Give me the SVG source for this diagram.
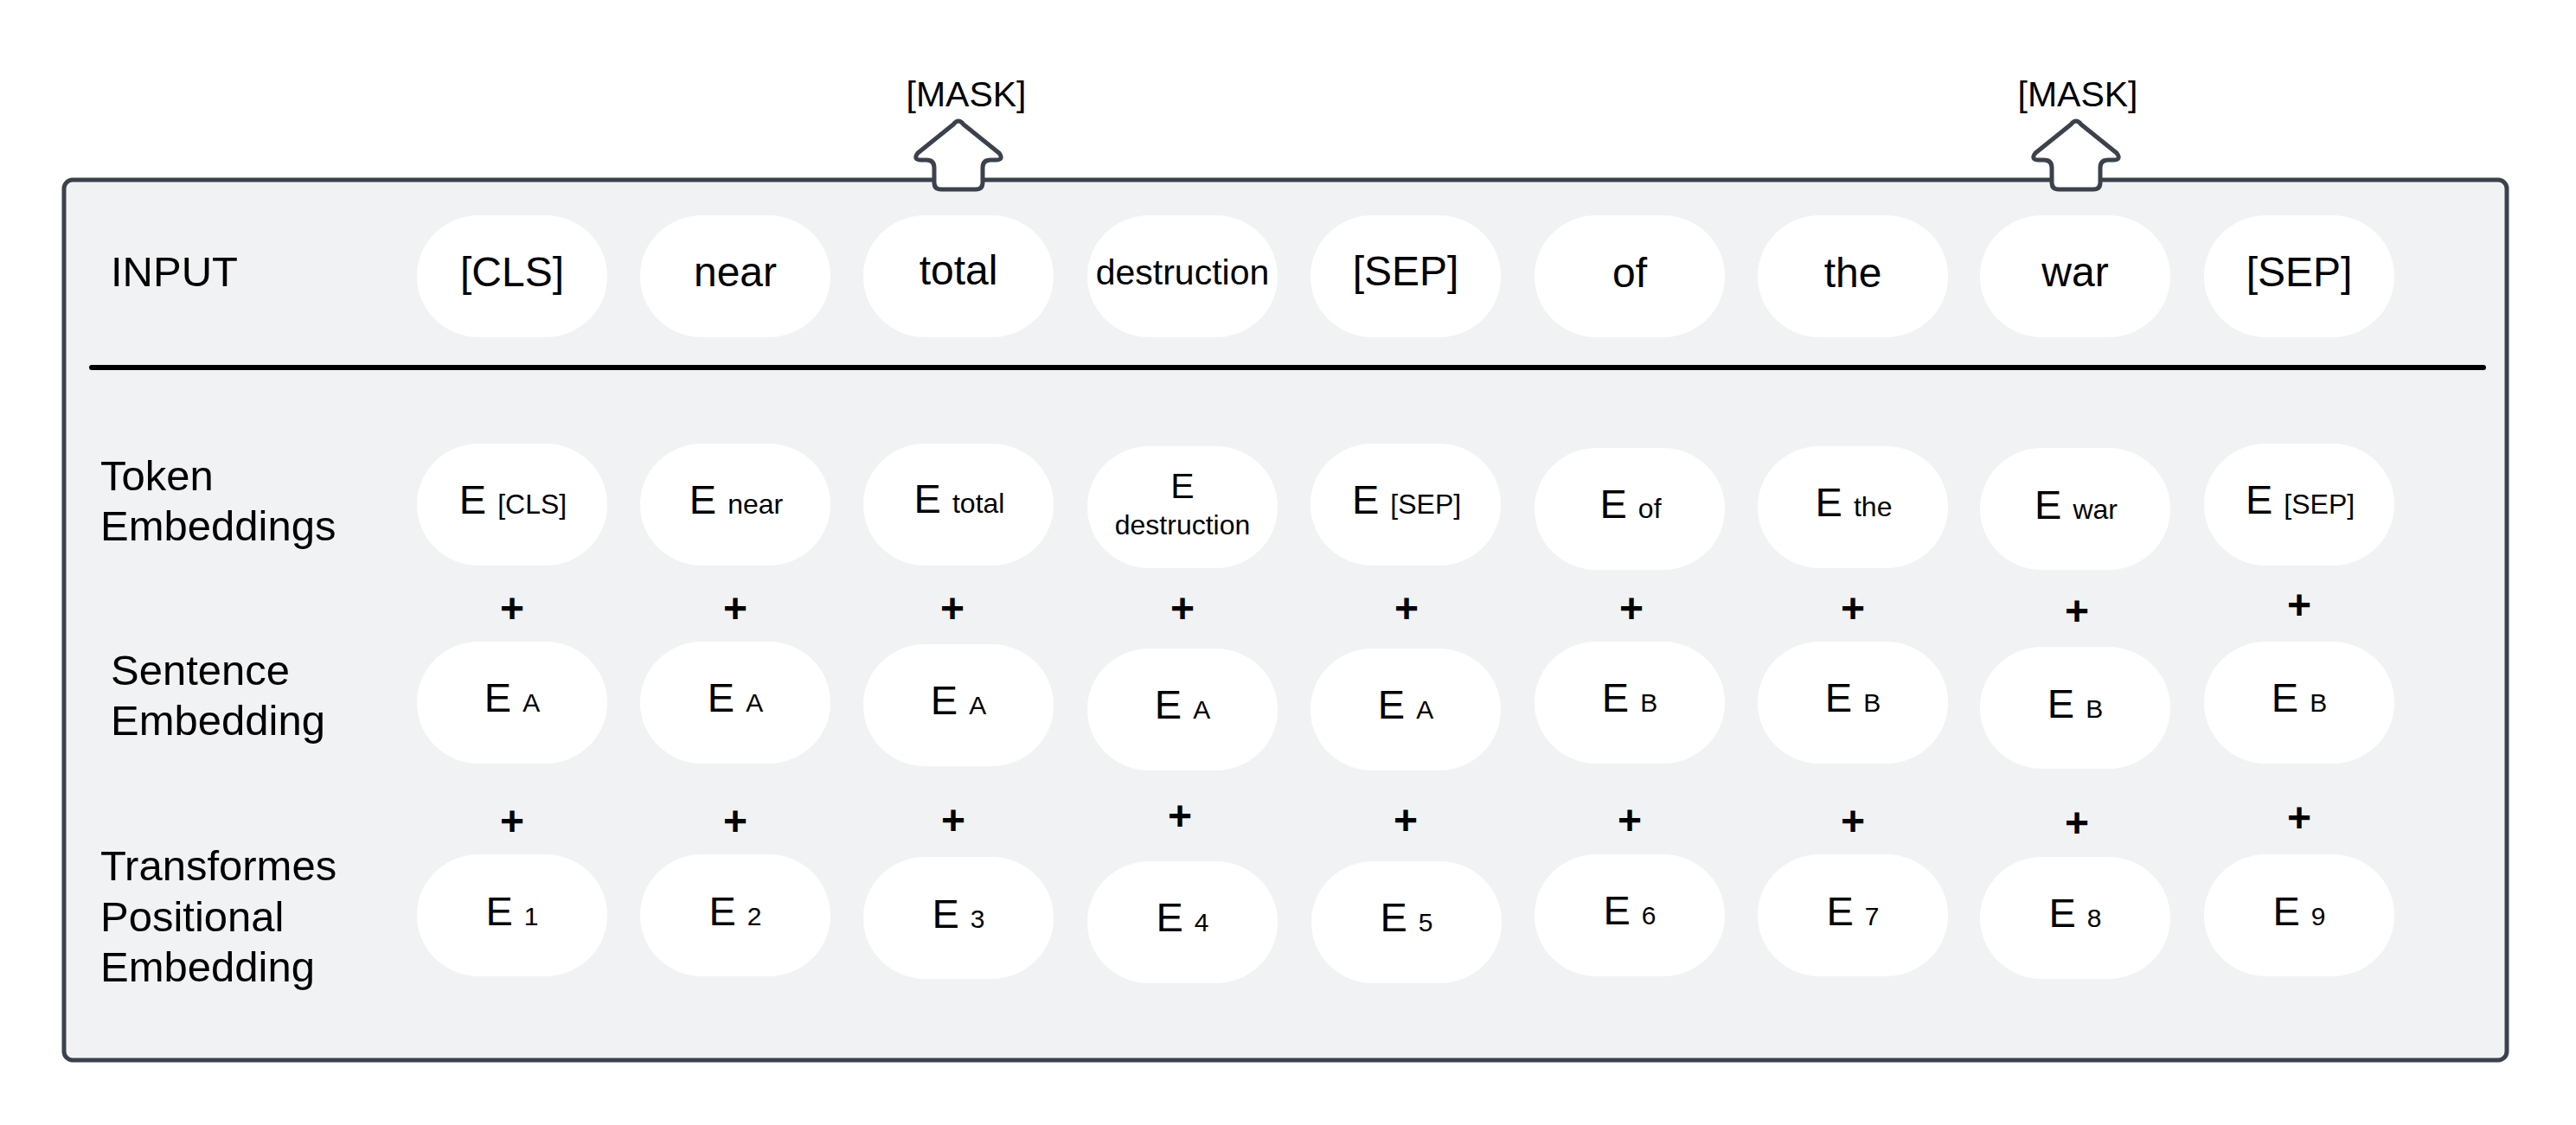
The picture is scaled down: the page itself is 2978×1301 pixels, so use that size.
<svg xmlns="http://www.w3.org/2000/svg" width="2978" height="1301" viewBox="0 0 2978 1301">
<style>
text{font-family:"Liberation Sans",Arial,sans-serif;fill:#000;}
.lbl{font-size:49px;}
.tok{font-size:48px;text-anchor:middle;}
.e{font-size:47px;text-anchor:middle;}
.s{font-size:32px;}
.s2{font-size:30px;}
.plus{font-size:48px;font-weight:bold;text-anchor:middle;}
.mask{font-size:41px;text-anchor:middle;}
.b{fill:#ffffff;}
.arrow{fill:#ffffff;stroke:#3b424c;stroke-width:5;stroke-linejoin:round;}
</style>
<defs>
<rect id="bub" width="220" height="141" rx="72" ry="70"/>
<path id="arr" d="M -6,144 Q 0,136 6,144 L 47,177 Q 53,185 43,185 L 37,185 Q 28,185 28,194 L 28,211 Q 28,219 20,219 L -20,219 Q -28,219 -28,211 L -28,194 Q -28,185 -37,185 L -43,185 Q -53,185 -47,177 Z"/>
</defs>
<rect width="2978" height="1301" fill="#ffffff"/>
<g id="container">
<rect x="74" y="208" width="2824" height="1018" rx="10" ry="10" fill="#f1f2f4" stroke="#3b424c" stroke-width="5"/>
<line x1="106" y1="425" x2="2871" y2="425" stroke="#000" stroke-width="6" stroke-linecap="round"/>
</g>
<g id="mask1">
<use href="#arr" class="arrow" transform="translate(1108,0)"/>
<text class="mask" x="1117" y="123">[MASK]</text>
</g>
<g id="mask2">
<use href="#arr" class="arrow" transform="translate(2400,0)"/>
<text class="mask" x="2402" y="123">[MASK]</text>
</g>
<g id="row-labels">
<text class="lbl" x="128" y="331">INPUT</text>
<text class="lbl" x="116" y="567">Token</text>
<text class="lbl" x="116" y="625">Embeddings</text>
<text class="lbl" x="128" y="792">Sentence</text>
<text class="lbl" x="128" y="850">Embedding</text>
<text class="lbl" x="116" y="1018">Transformes</text>
<text class="lbl" x="116" y="1077">Positional</text>
<text class="lbl" x="116" y="1135">Embedding</text>
</g>
<g id="input-row">
<g id="in-cls"><use href="#bub" class="b" x="482" y="249"/><text class="tok" x="592" y="331">[CLS]</text></g>
<g id="in-near"><use href="#bub" class="b" x="740" y="249"/><text class="tok" x="850" y="331">near</text></g>
<g id="in-total"><use href="#bub" class="b" x="998" y="249"/><text class="tok" x="1108" y="329">total</text></g>
<g id="in-destruction"><use href="#bub" class="b" x="1257" y="249"/><text class="tok" x="1367" y="329" style="font-size:41px">destruction</text></g>
<g id="in-sep1"><use href="#bub" class="b" x="1515" y="249"/><text class="tok" x="1625" y="330">[SEP]</text></g>
<g id="in-of"><use href="#bub" class="b" x="1774" y="249"/><text class="tok" x="1884" y="332">of</text></g>
<g id="in-the"><use href="#bub" class="b" x="2032" y="249"/><text class="tok" x="2142" y="332">the</text></g>
<g id="in-war"><use href="#bub" class="b" x="2289" y="249"/><text class="tok" x="2399" y="331">war</text></g>
<g id="in-sep2"><use href="#bub" class="b" x="2548" y="249"/><text class="tok" x="2658" y="331">[SEP]</text></g>
</g>
<g id="token-row">
<g id="tk-cls"><use href="#bub" class="b" x="482" y="513"/><text class="e" x="593" y="594"><tspan>E </tspan><tspan class="s">[CLS]</tspan></text></g>
<g id="tk-near"><use href="#bub" class="b" x="740" y="513"/><text class="e" x="851" y="594"><tspan>E </tspan><tspan class="s">near</tspan></text></g>
<g id="tk-total"><use href="#bub" class="b" x="998" y="513"/><text class="e" x="1109" y="593"><tspan>E </tspan><tspan class="s">total</tspan></text></g>
<g id="tk-destruction"><use href="#bub" class="b" x="1257" y="516"/><text class="e" x="1367" y="576" style="font-size:41px">E</text><text class="e s" x="1367" y="618">destruction</text></g>
<g id="tk-sep1"><use href="#bub" class="b" x="1515" y="513"/><text class="e" x="1626" y="594"><tspan>E </tspan><tspan class="s">[SEP]</tspan></text></g>
<g id="tk-of"><use href="#bub" class="b" x="1774" y="518"/><text class="e" x="1885" y="599"><tspan>E </tspan><tspan class="s">of</tspan></text></g>
<g id="tk-the"><use href="#bub" class="b" x="2032" y="516"/><text class="e" x="2143" y="597"><tspan>E </tspan><tspan class="s">the</tspan></text></g>
<g id="tk-war"><use href="#bub" class="b" x="2289" y="518"/><text class="e" x="2400" y="600"><tspan>E </tspan><tspan class="s">war</tspan></text></g>
<g id="tk-sep2"><use href="#bub" class="b" x="2548" y="513"/><text class="e" x="2659" y="594"><tspan>E </tspan><tspan class="s">[SEP]</tspan></text></g>
</g>
<g id="plus-row-1">
<text class="plus" x="592" y="720">+</text>
<text class="plus" x="850" y="720">+</text>
<text class="plus" x="1101" y="720">+</text>
<text class="plus" x="1367" y="720">+</text>
<text class="plus" x="1626" y="720">+</text>
<text class="plus" x="1886" y="720">+</text>
<text class="plus" x="2142" y="720">+</text>
<text class="plus" x="2401" y="723">+</text>
<text class="plus" x="2658" y="716">+</text>
</g>
<g id="sentence-row">
<g id="se-1"><use href="#bub" class="b" x="482" y="742"/><text class="e" x="592" y="823"><tspan>E </tspan><tspan class="s2">A</tspan></text></g>
<g id="se-2"><use href="#bub" class="b" x="740" y="742"/><text class="e" x="850" y="823"><tspan>E </tspan><tspan class="s2">A</tspan></text></g>
<g id="se-3"><use href="#bub" class="b" x="998" y="745"/><text class="e" x="1108" y="826"><tspan>E </tspan><tspan class="s2">A</tspan></text></g>
<g id="se-4"><use href="#bub" class="b" x="1257" y="750"/><text class="e" x="1367" y="831"><tspan>E </tspan><tspan class="s2">A</tspan></text></g>
<g id="se-5"><use href="#bub" class="b" x="1515" y="750"/><text class="e" x="1625" y="831"><tspan>E </tspan><tspan class="s2">A</tspan></text></g>
<g id="se-6"><use href="#bub" class="b" x="1774" y="742"/><text class="e" x="1884" y="823"><tspan>E </tspan><tspan class="s2">B</tspan></text></g>
<g id="se-7"><use href="#bub" class="b" x="2032" y="742"/><text class="e" x="2142" y="823"><tspan>E </tspan><tspan class="s2">B</tspan></text></g>
<g id="se-8"><use href="#bub" class="b" x="2289" y="748"/><text class="e" x="2399" y="830"><tspan>E </tspan><tspan class="s2">B</tspan></text></g>
<g id="se-9"><use href="#bub" class="b" x="2548" y="742"/><text class="e" x="2658" y="823"><tspan>E </tspan><tspan class="s2">B</tspan></text></g>
</g>
<g id="plus-row-2">
<text class="plus" x="592" y="966">+</text>
<text class="plus" x="850" y="966">+</text>
<text class="plus" x="1102" y="965">+</text>
<text class="plus" x="1364" y="960">+</text>
<text class="plus" x="1625" y="965">+</text>
<text class="plus" x="1884" y="965">+</text>
<text class="plus" x="2142" y="966">+</text>
<text class="plus" x="2401" y="968">+</text>
<text class="plus" x="2658" y="962">+</text>
</g>
<g id="positional-row">
<g id="po-1"><use href="#bub" class="b" x="482" y="988"/><text class="e" x="592" y="1070"><tspan>E </tspan><tspan class="s2">1</tspan></text></g>
<g id="po-2"><use href="#bub" class="b" x="740" y="988"/><text class="e" x="850" y="1070"><tspan>E </tspan><tspan class="s2">2</tspan></text></g>
<g id="po-3"><use href="#bub" class="b" x="998" y="991"/><text class="e" x="1108" y="1073"><tspan>E </tspan><tspan class="s2">3</tspan></text></g>
<g id="po-4"><use href="#bub" class="b" x="1257" y="996"/><text class="e" x="1367" y="1077"><tspan>E </tspan><tspan class="s2">4</tspan></text></g>
<g id="po-5"><use href="#bub" class="b" x="1516" y="996"/><text class="e" x="1626" y="1077"><tspan>E </tspan><tspan class="s2">5</tspan></text></g>
<g id="po-6"><use href="#bub" class="b" x="1774" y="988"/><text class="e" x="1884" y="1069"><tspan>E </tspan><tspan class="s2">6</tspan></text></g>
<g id="po-7"><use href="#bub" class="b" x="2032" y="988"/><text class="e" x="2142" y="1070"><tspan>E </tspan><tspan class="s2">7</tspan></text></g>
<g id="po-8"><use href="#bub" class="b" x="2289" y="991"/><text class="e" x="2399" y="1072"><tspan>E </tspan><tspan class="s2">8</tspan></text></g>
<g id="po-9"><use href="#bub" class="b" x="2548" y="988"/><text class="e" x="2658" y="1070"><tspan>E </tspan><tspan class="s2">9</tspan></text></g>
</g>
<g id="connectors"></g>
</svg>
